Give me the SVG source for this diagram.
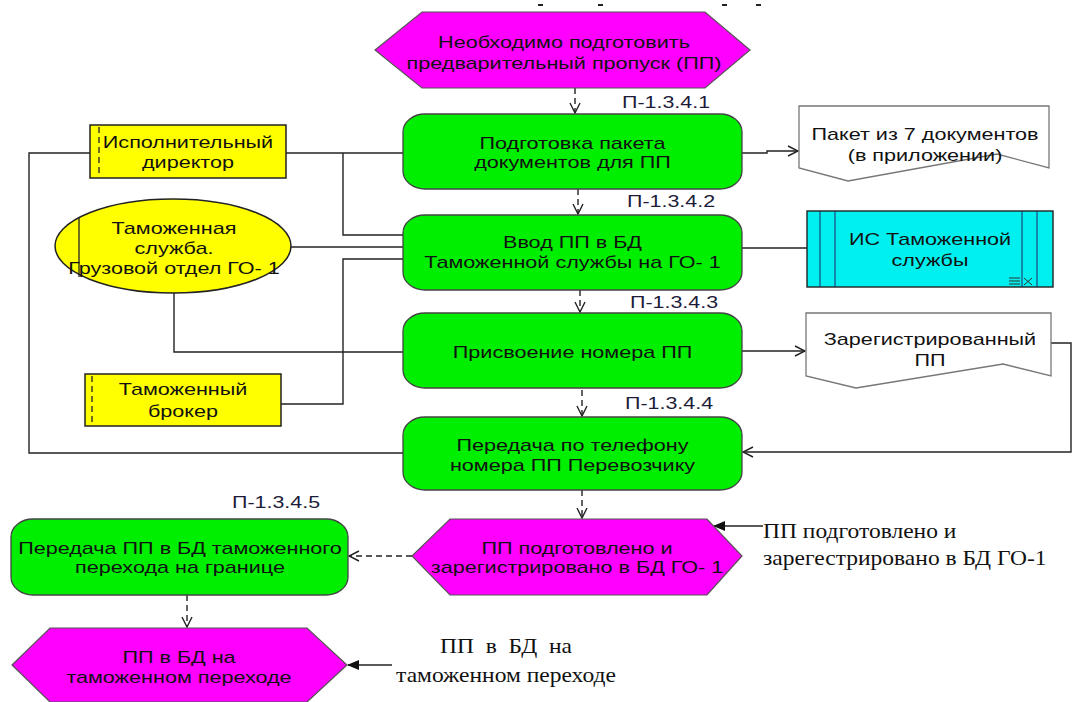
<svg xmlns="http://www.w3.org/2000/svg" width="1072" height="702" viewBox="0 0 1072 702">
<style>
.t{font-family:"Liberation Sans",Arial,sans-serif;font-size:17px;fill:#111;text-anchor:middle}
.lab{font-family:"Liberation Sans",Arial,sans-serif;font-size:16.5px;fill:#1c1c3a}
.s{font-family:"Liberation Serif","Times New Roman",serif;font-size:21px;fill:#111;white-space:pre}
.fn{fill:#00ee00;stroke:#444;stroke-width:1.3}
.ev{fill:#ff00ff;stroke:#555;stroke-width:1.2}
.yl{fill:#ffff00;stroke:#222;stroke-width:1.5}
.doc{fill:#fff;stroke:#777;stroke-width:1.3}
.c{fill:none;stroke:#222;stroke-width:1.4}
.d{fill:none;stroke:#222;stroke-width:1.4;stroke-dasharray:6 4}
</style>
<defs>
<marker id="open" viewBox="0 0 12 12" refX="11" refY="6" markerWidth="12" markerHeight="12" markerUnits="userSpaceOnUse" orient="auto">
<path d="M1,1 L11,6 L1,11" fill="none" stroke="#222" stroke-width="1.4"/>
</marker>
<marker id="fill" viewBox="0 0 12 12" refX="11" refY="6" markerWidth="12" markerHeight="12" markerUnits="userSpaceOnUse" orient="auto">
<path d="M0,1 L12,6 L0,11 Z" fill="#111"/>
</marker>
</defs>
<rect width="1072" height="702" fill="#fff"/>
<g id="top-fragments" fill="#222">
<rect x="538" y="4" width="5" height="2"/><rect x="598" y="4" width="5" height="2"/><rect x="722" y="4" width="5" height="2"/><rect x="756" y="4" width="5" height="2"/>
</g>

<g id="connectors">
<path class="d" d="M575,88 V113" marker-end="url(#open)"/>
<path class="d" d="M578,189 V214" marker-end="url(#open)"/>
<path class="d" d="M580,290 V312" marker-end="url(#open)"/>
<path class="d" d="M582,390 V416" marker-end="url(#open)"/>
<path class="d" d="M582,490 V518" marker-end="url(#open)"/>
<path class="d" d="M412,556 H349" marker-end="url(#open)"/>
<path class="d" d="M187,595 V627" marker-end="url(#open)"/>
<path class="c" d="M90,153 H29 V453 H403"/>
<path class="c" d="M286,153 H403"/>
<path class="c" d="M343,153 V235 H403"/>
<path class="c" d="M291,247 H403"/>
<path class="c" d="M174,293 V352 H403"/>
<path class="c" d="M281,404 H343 V259 H403"/>
<path class="c" d="M742,153 H767 V151 H798" marker-end="url(#open)"/>
<path class="c" d="M742,248 H807"/>
<path class="c" d="M742,351 H805" marker-end="url(#open)"/>
<path class="c" d="M1051,343 H1071 V452 H743" marker-end="url(#open)"/>
<path class="c" d="M763,526 H714" marker-end="url(#fill)"/>
<path class="c" d="M392,665 H348" marker-end="url(#fill)"/>
</g>

<g id="ev-start">
<polygon class="ev" points="375,50 422,12 705,12 750,50 705,88 422,88"/>
<text class="t" transform="translate(564,0) scale(1.27,1)"><tspan x="0" y="48">Необходимо подготовить</tspan><tspan x="0" y="69">предварительный пропуск (ПП)</tspan></text>
</g>

<g id="fn1">
<rect class="fn" x="403" y="114" width="339" height="75" rx="22" ry="18"/>
<text class="t" transform="translate(572.5,0) scale(1.27,1)"><tspan x="0" y="149">Подготовка пакета</tspan><tspan x="0" y="168">документов для ПП</tspan></text>
<text class="lab" transform="translate(622,0) scale(1.3,1)" x="0" y="108">П-1.3.4.1</text>
</g>

<g id="fn2">
<rect class="fn" x="403" y="215" width="339" height="75" rx="22" ry="18"/>
<text class="t" transform="translate(572.5,0) scale(1.27,1)"><tspan x="0" y="248">Ввод ПП в БД</tspan><tspan x="0" y="268">Таможенной службы на ГО- 1</tspan></text>
<text class="lab" transform="translate(627,0) scale(1.3,1)" x="0" y="207">П-1.3.4.2</text>
</g>

<g id="fn3">
<rect class="fn" x="403" y="313" width="339" height="75" rx="22" ry="18"/>
<text class="t" transform="translate(572.5,0) scale(1.27,1)" x="0" y="358">Присвоение номера ПП</text>
<text class="lab" transform="translate(630,0) scale(1.3,1)" x="0" y="308">П-1.3.4.3</text>
</g>

<g id="fn4">
<rect class="fn" x="403" y="417" width="339" height="73" rx="22" ry="18"/>
<text class="t" transform="translate(572.5,0) scale(1.27,1)"><tspan x="0" y="451">Передача по телефону</tspan><tspan x="0" y="471">номера ПП Перевозчику</tspan></text>
<text class="lab" transform="translate(625,0) scale(1.3,1)" x="0" y="409">П-1.3.4.4</text>
</g>

<g id="ev-registered">
<polygon class="ev" points="412,556 450,519 707,519 742,556 707,595 450,595"/>
<text class="t" transform="translate(577,0) scale(1.27,1)"><tspan x="0" y="554">ПП подготовлено и</tspan><tspan x="0" y="573">зарегистрировано в БД ГО- 1</tspan></text>
</g>

<g id="fn5">
<rect class="fn" x="11" y="519" width="337" height="76" rx="22" ry="18"/>
<text class="t" transform="translate(180,0) scale(1.27,1)"><tspan x="0" y="554">Передача ПП в БД таможенного</tspan><tspan x="0" y="573">перехода на границе</tspan></text>
<text class="lab" transform="translate(232,0) scale(1.3,1)" x="0" y="508">П-1.3.4.5</text>
</g>

<g id="ev-end">
<polygon class="ev" points="12,665 50,628 307,628 347,665 307,702 50,702"/>
<text class="t" transform="translate(179,0) scale(1.27,1)"><tspan x="0" y="663">ПП в БД на</tspan><tspan x="0" y="683">таможенном переходе</tspan></text>
</g>

<g id="exec">
<rect class="yl" x="90" y="125" width="196" height="53"/>
<line x1="99" y1="127" x2="99" y2="176" stroke="#222" stroke-width="1.3" stroke-dasharray="6 4"/>
<text class="t" transform="translate(188,0) scale(1.27,1)"><tspan x="0" y="148">Исполнительный</tspan><tspan x="0" y="168">директор</tspan></text>
</g>

<g id="customs">
<ellipse class="yl" cx="173" cy="246" rx="118" ry="47" stroke-width="1.2"/>
<line x1="79" y1="217" x2="79" y2="277" stroke="#222" stroke-width="1.3"/>
<text class="t" transform="translate(174,0) scale(1.27,1)"><tspan x="0" y="234">Таможенная</tspan><tspan x="0" y="254">служба.</tspan><tspan x="0" y="274">Грузовой отдел ГО- 1</tspan></text>
</g>

<g id="broker">
<rect class="yl" x="85" y="374" width="196" height="52"/>
<line x1="92" y1="376" x2="92" y2="424" stroke="#222" stroke-width="1.3" stroke-dasharray="6 4"/>
<text class="t" transform="translate(183,0) scale(1.27,1)"><tspan x="0" y="395">Таможенный</tspan><tspan x="0" y="417">брокер</tspan></text>
</g>

<g id="doc-package">
<path class="doc" d="M799,106 H1049 V168 L997,154 L848,181 L799,168 Z"/>
<text class="t" fill="#1a1a30" transform="translate(925,0) scale(1.27,1)"><tspan x="0" y="140">Пакет из 7 документов</tspan><tspan x="0" y="161">(в приложении)</tspan></text>
</g>

<g id="is-customs">
<rect x="807" y="211" width="246" height="76" fill="#00f0f0" stroke="#222" stroke-width="1.4"/>
<g stroke="#226" stroke-width="1"><line x1="820" y1="211" x2="820" y2="287"/><line x1="835" y1="211" x2="835" y2="287"/><line x1="1022" y1="211" x2="1022" y2="287"/><line x1="1037" y1="211" x2="1037" y2="287"/></g>
<g stroke="#333" stroke-width="1"><line x1="1009" y1="278" x2="1020" y2="278"/><line x1="1009" y1="281" x2="1020" y2="281"/><line x1="1009" y1="284" x2="1020" y2="284"/><line x1="1024" y1="278" x2="1032" y2="285"/><line x1="1032" y1="278" x2="1024" y2="285"/></g>
<text class="t" transform="translate(930,0) scale(1.27,1)"><tspan x="0" y="245">ИС Таможенной</tspan><tspan x="0" y="266">службы</tspan></text>
</g>

<g id="doc-registered">
<path class="doc" d="M806,313 H1051 V376 L1003,364 L856,388 L806,376 Z"/>
<text class="t" fill="#1a1a30" transform="translate(930,0) scale(1.27,1)"><tspan x="0" y="345">Зарегистрированный</tspan><tspan x="0" y="366">ПП</tspan></text>
</g>

<g id="note-registered">
<text class="s" transform="translate(763,0) scale(1.12,1)"><tspan x="0" y="538">ПП подготовлено и</tspan><tspan x="0" y="565">зарегестрировано в БД ГО-1</tspan></text>
</g>

<g id="note-end">
<text class="s" text-anchor="middle" transform="translate(506,0) scale(1.12,1)"><tspan x="0" y="653">ПП  в  БД  на</tspan><tspan x="0" y="682">таможенном переходе</tspan></text>
</g>
</svg>
